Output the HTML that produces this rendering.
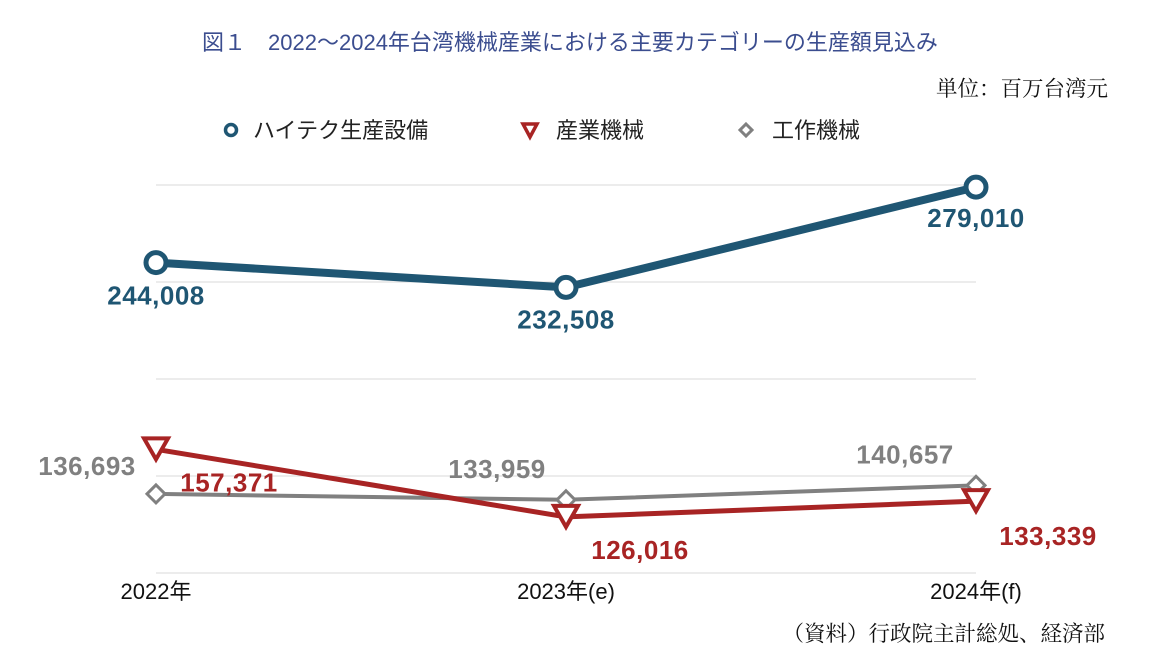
<!DOCTYPE html>
<html><head><meta charset="utf-8"><style>
body{margin:0;background:#fff;}
svg{display:block;font-family:"Liberation Sans","Noto Sans CJK JP",sans-serif;}
</style></head><body>
<svg id="c" width="1174" height="658">
<text x="570" y="50" text-anchor="middle" font-size="22" fill="#3b4d8f">図１　2022～2024年台湾機械産業における主要カテゴリーの生産額見込み</text>
<text x="1108" y="96" text-anchor="end" font-size="21.5" fill="#111" font-family="Liberation Serif,Noto Serif CJK SC,serif">単位：百万台湾元</text>
<g>
<g><circle cx="231" cy="130" r="5.5" fill="none" stroke="#1f5673" stroke-width="3.5"/><text x="253" y="138" font-size="22" fill="#222">ハイテク生産設備</text></g>
<g><path d="M523,124 h14 l-7,13z" fill="none" stroke="#a82424" stroke-width="3.5"/><text x="556" y="138" font-size="22" fill="#222">産業機械</text></g>
<g><path d="M746,124 l6,6 l-6,6 l-6,-6z" fill="none" stroke="#808080" stroke-width="3"/><text x="772" y="138" font-size="22" fill="#222">工作機械</text></g>
</g>
<g id="grid"></g><g id="series"></g><g id="xlab"></g>
<text x="1105" y="641" text-anchor="end" font-size="21.5" fill="#111" font-family="Liberation Serif,Noto Serif CJK SC,serif">（資料）行政院主計総処、経済部</text>
</svg>
<script>
const categories=["2022年","2023年(e)","2024年(f)"];
const hightech=[244008,232508,279010];
const industrial=[157371,126016,133339];
const machineTool=[136693,133959,140657];
const yTicks=[100000,145000,190000,235000,280000];
const NS="http://www.w3.org/2000/svg";
const x=i=>156+i*410;
const y=v=>573-(v-100000)/180000*388;
function el(t,a,p){const e=document.createElementNS(NS,t);for(const k in a)e.setAttribute(k,a[k]);p.appendChild(e);return e;}
const grid=document.getElementById('grid'),ser=document.getElementById('series'),xl=document.getElementById('xlab');
yTicks.forEach(v=>{const l=el('line',{x1:156,x2:976,y1:y(v),y2:y(v),stroke:'#d9d9d9','stroke-width':1},grid);

});
categories.forEach((c,i)=>{const t=el('text',{x:x(i),y:599,'text-anchor':'middle','font-size':22,fill:'#111'},xl);t.textContent=c;

});
const fmt=v=>v.toLocaleString('en-US');
function series(vals,color,w,name,marker,lab){
 const g=el('g',{},ser);
 
 
 const p=el('polyline',{points:vals.map((v,i)=>x(i)+','+y(v)).join(' '),fill:'none',stroke:color,'stroke-width':w,'stroke-linejoin':'round'},g);
 
 
 vals.forEach((v,i)=>{const cx=x(i),cy=y(v);let m;
  if(marker==='c')m=el('circle',{cx,cy,r:10,fill:'#fff',stroke:color,'stroke-width':5},g);
  else if(marker==='t')m=el('path',{d:`M${cx-12},${cy-11} h24 l-12,21z`,fill:'#fff',stroke:color,'stroke-width':4},g);
  else m=el('path',{d:`M${cx},${cy-9} l9,9 l-9,9 l-9,-9z`,fill:'#fff',stroke:color,'stroke-width':3},g);
  
  
  const o=lab[i];const t=el('text',{x:cx+o[0],y:cy+o[1],'text-anchor':'middle','font-size':26,'font-weight':'bold','letter-spacing':0.5,fill:color},g);
  t.textContent=fmt(v);
  
  });
}
series(machineTool,'#808080',4,'machine-tool','d',[[-69,-19],[-69,-22],[-71,-22]]);
series(industrial,'#a82424',5,'industrial','t',[[73,42],[74,42],[72,44]]);
series(hightech,'#1f5673',8,'hightech','c',[[0,42],[0,41],[0,40]]);
</script>
</body></html>
